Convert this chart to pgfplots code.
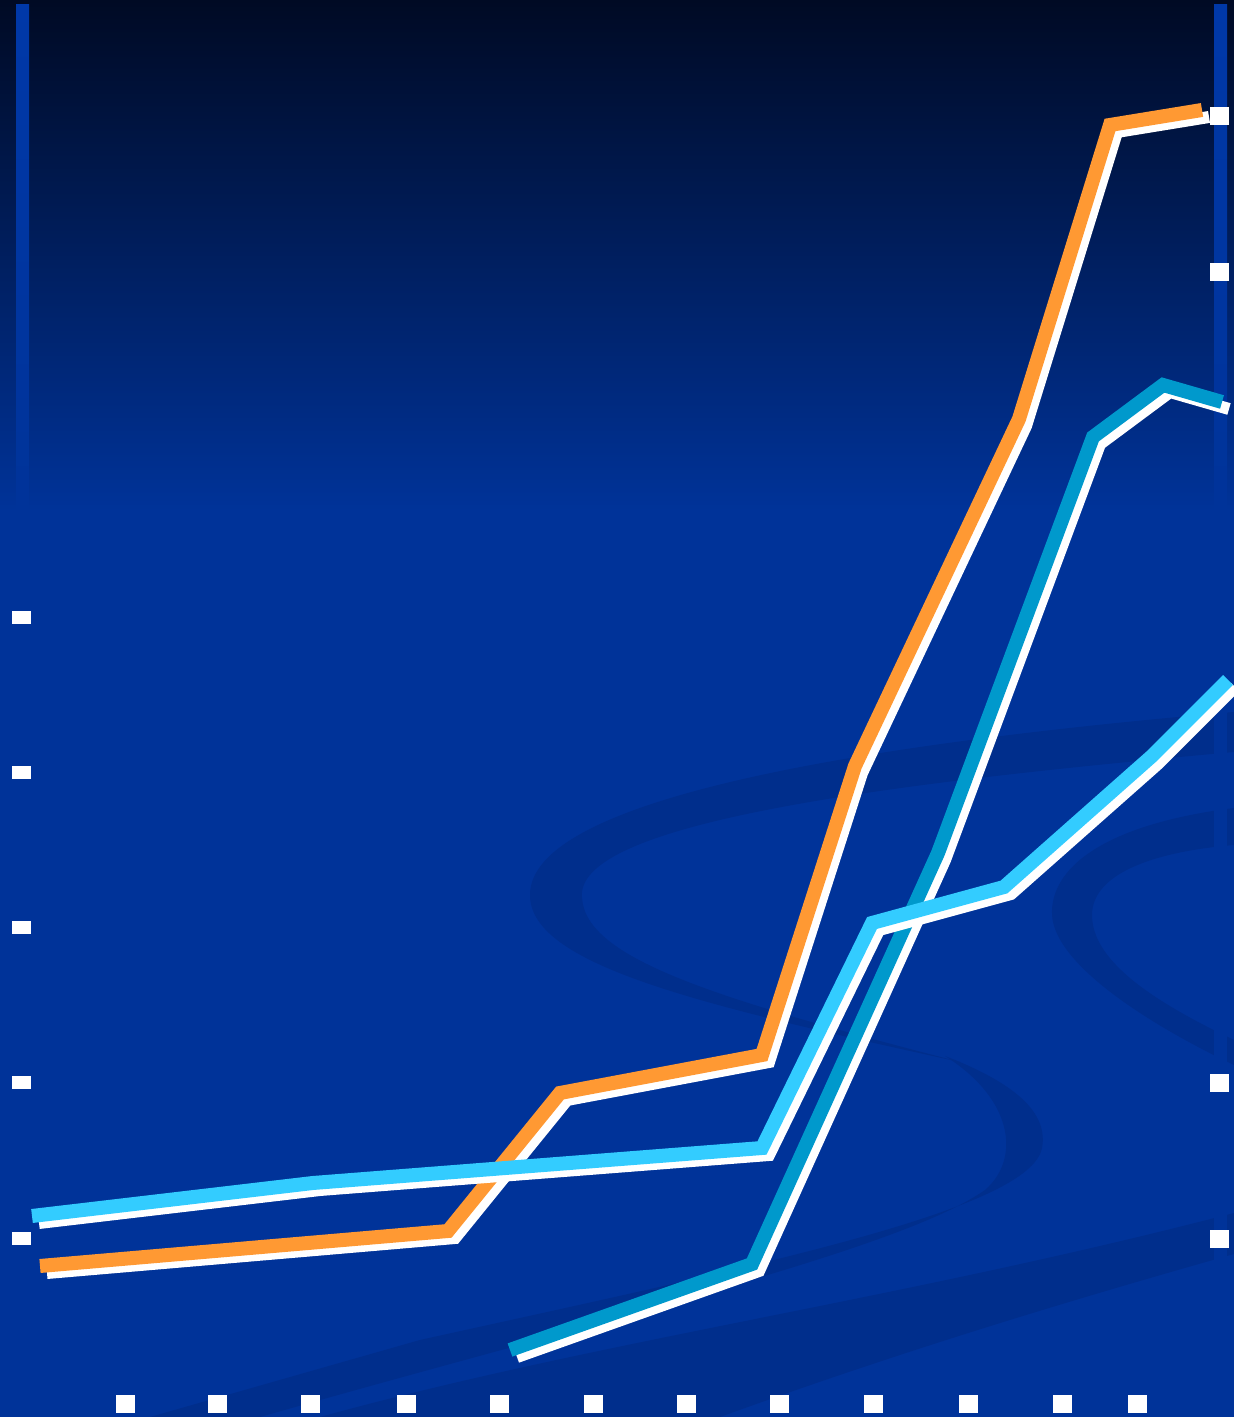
\documentclass[border=0pt]{standalone}
\usepackage{pgfplots}
\pgfplotsset{compat=1.18}
\definecolor{bgtop}{RGB}{0,10,36}
\definecolor{bgmain}{RGB}{0,51,153}
\definecolor{bartop}{RGB}{0,56,168}
\definecolor{swoosh}{RGB}{0,46,140}
\definecolor{orangeline}{RGB}{255,153,51}
\definecolor{lightcyan}{RGB}{51,204,255}
\definecolor{darkcyan}{RGB}{0,153,204}

% x in image pixels, y = 1417 - pixel row
\pgfplotstableread{
x y
40 151
448 186
560 324
762 362
855 651
1019 998
1110 1292
1202 1307
}\orangedata
\pgfplotstableread{
x y
32 201
313 234
762 269
872 494
1004 530
1152 661
1228 737
}\lightdata
\pgfplotstableread{
x y
510 67
752 153
938 564
1093 980
1163 1032
1222 1015
}\darkdata

\begin{document}
\begin{tikzpicture}
% background
\fill[bgmain] (0,0) rectangle (617pt,708.5pt);
\shade[top color=bgtop, bottom color=bgmain] (0,453pt) rectangle (617pt,708.5pt);
\begin{scope}[x=0.5pt,y=-0.5pt,yshift=708.5pt]
  % top arc of the S
  \fill[swoosh] (1234,712) .. controls (850,745) and (530,800) .. (530,895)
     .. controls (530,965) and (700,1005) .. (960,1062)
     .. controls (700,995) and (578,955) .. (582,892)
     .. controls (590,820) and (900,782) .. (1234,752) -- cycle;
  % lower arc of the S
  \fill[swoosh] (945,1056) .. controls (1020,1085) and (1048,1115) .. (1042,1148)
     .. controls (1030,1210) and (760,1265) .. (420,1340)
     -- (150,1417) -- (260,1417)
     .. controls (600,1320) and (900,1250) .. (985,1190)
     .. controls (1020,1160) and (1015,1100) .. (945,1056) -- cycle;
  % right C
  \fill[swoosh] (1234,808) .. controls (1100,825) and (1050,870) .. (1052,915)
     .. controls (1055,965) and (1150,1025) .. (1234,1065) -- (1234,1040)
     .. controls (1150,1000) and (1092,960) .. (1092,915)
     .. controls (1092,875) and (1150,852) .. (1234,845) -- cycle;
  % lower band
  \fill[swoosh] (1234,1213) -- (1234,1254) .. controls (1000,1320) and (850,1370) .. (720,1417)
     -- (320,1417) .. controls (600,1340) and (900,1300) .. (1234,1213) -- cycle;
  % right bar lower part
  \fill[bgmain] (1214,515) rectangle (1227,1417);
\end{scope}
\shade[top color=bartop, bottom color=bgmain] (8pt,450pt) rectangle (14.5pt,706pt);
\shade[top color=bartop, bottom color=bgmain] (607pt,450pt) rectangle (613.5pt,706pt);

\begin{axis}[
  at={(0,0)}, anchor=south west,
  x=0.5pt, y=0.5pt,
  xmin=0, xmax=1234, ymin=0, ymax=1417,
  axis line style={draw=none},
  major tick length=0pt,
  xtick={125,217,310,406,499,593,686,779,873,968,1062,1137},
  xticklabel={\rule{9.5pt}{8.8pt}},
  xticklabel style={anchor=center, inner sep=0pt, yshift=6.5pt, text=white},
  ytick={799,644,489,334,178},
  yticklabel={\rule{9.5pt}{6.5pt}},
  yticklabel style={anchor=center, inner sep=0pt, xshift=10.75pt, text=white},
  every axis plot/.append style={line cap=butt, line join=miter},
]
\addplot[white, line width=6pt, no markers, xshift=3.5pt, yshift=-3.5pt] table {\orangedata};
\addplot[orangeline, line width=7pt, no markers] table {\orangedata};
\addplot[white, line width=6pt, no markers, xshift=3.5pt, yshift=-3.5pt] table {\darkdata};
\addplot[darkcyan, line width=7pt, no markers] table {\darkdata};
\addplot[white, line width=6pt, no markers, xshift=3.5pt, yshift=-3.5pt] table {\lightdata};
\addplot[lightcyan, line width=7pt, no markers] table {\lightdata};
\end{axis}

\begin{axis}[
  at={(0,0)}, anchor=south west,
  x=0.5pt, y=0.5pt,
  xmin=0, xmax=1234, ymin=0, ymax=1417,
  axis line style={draw=none},
  major tick length=0pt,
  xtick=\empty,
  ytick={1301,1145,334,178},
  yticklabel pos=right,
  yticklabel={\rule{9.5pt}{8.8pt}},
  yticklabel style={anchor=center, inner sep=0pt, xshift=-7.25pt, text=white},
]
\end{axis}
\pgfresetboundingbox
\path (0,0) rectangle (617pt,708.5pt);
\end{tikzpicture}
\end{document}
